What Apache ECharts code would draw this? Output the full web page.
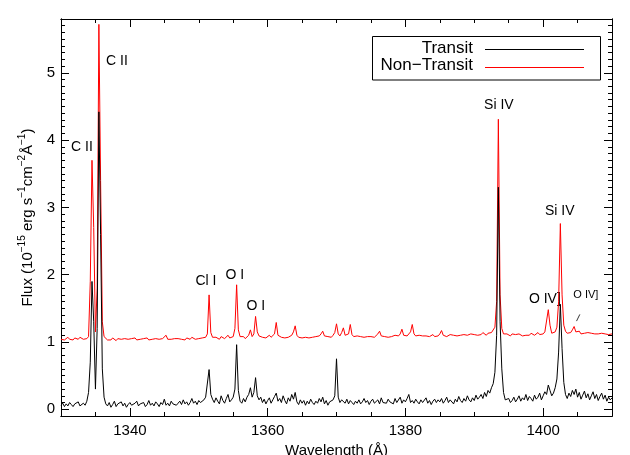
<!DOCTYPE html>
<html>
<head>
<meta charset="utf-8">
<script src="https://cdn.jsdelivr.net/npm/echarts@6.0.0/dist/echarts.min.js"></script>
<style>
html, body { margin: 0; padding: 0; background: #fff; }
#chart { width: 630px; height: 455px; }
</style>
</head>
<body>
<div id="chart"></div>
<script>
// wavelength grid 1330..1410 A, step 0.25 A (one row below = 1 A)
var waveStart = 1330, waveStep = 0.25;

var nonTransit = [
    1.04,1.06,1.03,1.05, //1330
    1.07,1.04,1.05,1.03,
    1.06,1.05,1.04,1.07,
    1.05,1.04,1.06,1.05,
    1.08,1.90,3.70,2.70, //1334
    1.15,1.80,5.72,3.40,
    1.30,1.08,1.06,1.03,
    1.05,1.03,1.06,1.04,
    1.02,1.05,1.07,1.04,
    1.03,1.05,1.06,1.04,
    1.03,1.05,1.04,1.06, //1340
    1.03,1.05,1.04,1.02,
    1.05,1.04,1.06,1.03,
    1.05,1.04,1.06,1.05,
    1.03,1.04,1.06,1.05,
    1.07,1.10,1.04,1.05, //1345
    1.04,1.06,1.05,1.03,
    1.05,1.06,1.04,1.05,
    1.03,1.06,1.05,1.04,
    1.07,1.05,1.04,1.06,
    1.05,1.04,1.06,1.05, //1350
    1.07,1.12,1.70,1.14,
    1.07,1.05,1.07,1.06,
    1.04,1.08,1.06,1.05,
    1.07,1.10,1.06,1.05,
    1.08,1.20,1.85,1.18, //1355
    1.08,1.06,1.08,1.05,
    1.07,1.10,1.18,1.08,
    1.12,1.38,1.15,1.09,
    1.10,1.07,1.09,1.06,
    1.08,1.10,1.07,1.09, //1360
    1.12,1.29,1.10,1.08,
    1.07,1.09,1.06,1.08,
    1.07,1.09,1.10,1.15,
    1.24,1.10,1.07,1.08,
    1.06,1.08,1.07,1.09, //1365
    1.06,1.08,1.07,1.06,
    1.08,1.07,1.09,1.12,
    1.16,1.09,1.07,1.08,
    1.09,1.07,1.10,1.14,
    1.27,1.12,1.09,1.14, //1370
    1.21,1.10,1.08,1.12,
    1.26,1.11,1.08,1.07,
    1.09,1.07,1.08,1.10,
    1.07,1.09,1.08,1.06,
    1.08,1.10,1.07,1.09, //1375
    1.12,1.16,1.09,1.07,
    1.08,1.10,1.07,1.09,
    1.08,1.07,1.10,1.08,
    1.09,1.12,1.19,1.10,
    1.08,1.09,1.11,1.15, //1380
    1.26,1.12,1.09,1.08,
    1.10,1.08,1.09,1.07,
    1.09,1.10,1.08,1.09,
    1.11,1.08,1.10,1.09,
    1.12,1.17,1.10,1.09, //1385
    1.08,1.10,1.11,1.09,
    1.10,1.12,1.09,1.11,
    1.10,1.08,1.11,1.12,
    1.10,1.09,1.12,1.10,
    1.11,1.13,1.10,1.12, //1390
    1.11,1.14,1.12,1.10,
    1.13,1.11,1.14,1.12,
    1.22,1.60,4.31,1.70,
    1.20,1.12,1.10,1.12,
    1.10,1.09,1.12,1.10, //1395
    1.11,1.09,1.12,1.10,
    1.09,1.11,1.10,1.12,
    1.10,1.13,1.11,1.10,
    1.12,1.14,1.11,1.13,
    1.12,1.15,1.13,1.48, //1400
    1.25,1.13,1.12,1.15,
    1.22,1.60,2.76,1.70,
    1.25,1.16,1.13,1.12,
    1.14,1.18,1.23,1.15,
    1.13,1.16,1.12,1.14, //1405
    1.13,1.11,1.14,1.12,
    1.13,1.11,1.12,1.14,
    1.12,1.10,1.13,1.11,
    1.12,1.14,1.11,1.12,
    1.12                 //1410
];

var transit = [
    0.06,0.09,0.04,0.08, //1330
    0.05,0.10,0.07,0.04,
    0.08,0.06,0.11,0.05,
    0.07,0.09,0.06,0.12,
    0.25,0.70,1.90,1.30, //1334
    0.30,1.20,4.42,2.60,
    0.60,0.18,0.08,0.05,
    0.10,0.03,0.07,0.12,
    0.04,0.08,0.06,0.11,
    0.05,0.09,0.03,0.07,
    0.10,0.06,0.04,0.09, //1340
    0.12,0.05,0.08,0.06,
    0.10,0.04,0.07,0.13,
    0.06,0.09,0.05,0.11,
    0.08,0.04,0.10,0.07,
    0.15,0.06,0.09,0.05, //1345
    0.12,0.08,0.10,0.06,
    0.09,0.12,0.07,0.14,
    0.08,0.11,0.06,0.10,
    0.16,0.09,0.12,0.07,
    0.13,0.10,0.08,0.14, //1350
    0.18,0.20,0.59,0.22,
    0.15,0.10,0.17,0.12,
    0.08,0.20,0.13,0.09,
    0.16,0.22,0.11,0.14,
    0.18,0.30,0.96,0.28, //1355
    0.12,0.09,0.16,0.11,
    0.18,0.22,0.32,0.18,
    0.25,0.47,0.20,0.14,
    0.18,0.10,0.15,0.08,
    0.13,0.17,0.09,0.14, //1360
    0.19,0.24,0.12,0.16,
    0.10,0.20,0.13,0.08,
    0.17,0.12,0.22,0.15,
    0.25,0.11,0.07,0.14,
    0.09,0.13,0.06,0.12, //1365
    0.08,0.15,0.10,0.07,
    0.12,0.09,0.16,0.11,
    0.18,0.08,0.13,0.06,
    0.11,0.09,0.14,0.20,
    0.75,0.18,0.10,0.14, //1370
    0.12,0.09,0.15,0.08,
    0.13,0.10,0.07,0.12,
    0.09,0.14,0.08,0.11,
    0.16,0.10,0.13,0.07,
    0.12,0.15,0.09,0.11, //1375
    0.14,0.08,0.17,0.10,
    0.12,0.09,0.15,0.11,
    0.13,0.08,0.16,0.10,
    0.12,0.18,0.09,0.14,
    0.11,0.16,0.22,0.10, //1380
    0.13,0.09,0.15,0.11,
    0.08,0.14,0.10,0.12,
    0.17,0.09,0.13,0.07,
    0.12,0.15,0.10,0.14,
    0.11,0.16,0.09,0.13, //1385
    0.18,0.10,0.14,0.12,
    0.08,0.15,0.11,0.19,
    0.13,0.10,0.16,0.12,
    0.20,0.14,0.11,0.17,
    0.13,0.21,0.15,0.18, //1390
    0.22,0.16,0.25,0.19,
    0.28,0.24,0.32,0.38,
    0.55,1.10,3.30,1.30,
    0.60,0.25,0.14,0.12,
    0.16,0.10,0.13,0.18, //1395
    0.11,0.15,0.20,0.12,
    0.17,0.14,0.22,0.13,
    0.19,0.16,0.12,0.21,
    0.15,0.18,0.24,0.14,
    0.20,0.26,0.22,0.36, //1400
    0.28,0.20,0.24,0.32,
    0.45,0.85,1.56,0.90,
    0.40,0.22,0.16,0.24,
    0.19,0.28,0.22,0.30,
    0.18,0.25,0.15,0.21, //1405
    0.27,0.17,0.23,0.14,
    0.20,0.26,0.16,0.22,
    0.13,0.19,0.24,0.15,
    0.21,0.12,0.18,0.14,
    0.17                 //1410
];

// line identifications [wavelength, flux, text]
var lineLabels = [
    [1333.05, 3.89, 'C II'],
    [1338.13, 5.17, 'C II'],
    [1351.05, 1.90, 'Cl I'],
    [1355.25, 1.99, 'O I'],
    [1358.30, 1.54, 'O I'],
    [1393.57, 4.52, 'Si IV'],
    [1402.42, 2.94, 'Si IV'],
    [1400.25, 1.63, 'O IV]']
];
var smallLabels = [[1406.20, 1.70, 'O IV]']];
var leader = [[1405.33, 1.41], [1404.85, 1.31]];

var xMajor = [1340, 1360, 1380, 1400];
var yMajor = [0, 1, 2, 3, 4, 5];

var gridBox = {left: 61, right: 18, top: 19, bottom: 39, outerBoundsMode: 'none'};

function toPairs(arr) {
    var out = [];
    for (var i = 0; i < arr.length; i++) {
        out.push([waveStart + i * waveStep, arr[i]]);
    }
    return out;
}

function labelData(list) {
    var out = [];
    for (var i = 0; i < list.length; i++) {
        out.push({value: [list[i][0], list[i][1]], name: list[i][2]});
    }
    return out;
}

// frame axes live on grid 1 (no series on it), the data on grid 0
function xAxisOf(pos, major, showLabel) {
    var ax = {
        gridIndex: 1, type: 'value', position: pos, min: 1330, max: 1410,
        interval: major ? 20 : 5,
        axisLine: {show: true, onZero: false, lineStyle: {color: '#000', width: 1}},
        axisTick: {show: true, inside: true, length: major ? 8 : 4,
            lineStyle: {color: '#000', width: 1}},
        axisLabel: {show: showLabel, color: '#000', fontSize: 15, margin: 7,
            formatter: function (v) { return String(v); }},
        splitLine: {show: false}
    };
    if (major) { ax.axisTick.customValues = xMajor; ax.axisLabel.customValues = xMajor; }
    return ax;
}

function yAxisOf(pos, major, showLabel) {
    var ax = {
        gridIndex: 1, type: 'value', position: pos, min: -0.1, max: 5.8,
        interval: major ? 1 : 0.1,
        axisLine: {show: true, onZero: false, lineStyle: {color: '#000', width: 1}},
        axisTick: {show: true, inside: true, length: major ? 8 : 4,
            lineStyle: {color: '#000', width: 1}},
        axisLabel: {show: showLabel, color: '#000', fontSize: 15, margin: 6,
            formatter: function (v) { return String(v); }},
        splitLine: {show: false}
    };
    if (major) { ax.axisTick.customValues = yMajor; ax.axisLabel.customValues = yMajor; }
    return ax;
}

var xBottom = xAxisOf('bottom', true, true);
xBottom.name = 'Wavelength (\u00c5)';
xBottom.nameLocation = 'middle';
xBottom.nameGap = 17;
xBottom.nameTextStyle = {color: '#000', fontSize: 15};

var labelStyle = {show: true, position: 'inside', formatter: '{b}', color: '#000',
    fontSize: 14, textBorderWidth: 0};
var smallLabelStyle = {show: true, position: 'inside', formatter: '{b}', color: '#000',
    fontSize: 11, textBorderWidth: 0};

var option = {
    animation: false,
    grid: [gridBox, gridBox],
    xAxis: [
        {gridIndex: 0, type: 'value', min: 1330, max: 1410, show: false},
        xBottom, xAxisOf('bottom', false, false), xAxisOf('top', true, false), xAxisOf('top', false, false)
    ],
    yAxis: [
        {gridIndex: 0, type: 'value', min: -0.1, max: 5.8, show: false},
        yAxisOf('left', true, true), yAxisOf('left', false, false), yAxisOf('right', true, false), yAxisOf('right', false, false)
    ],
    series: [
        {
            name: 'Non-Transit', type: 'line', data: toPairs(nonTransit),
            symbol: 'none', lineStyle: {color: '#ff0000', width: 1}
        },
        {
            name: 'Transit', type: 'line', data: toPairs(transit),
            symbol: 'none', lineStyle: {color: '#000000', width: 1}
        },
        {
            type: 'line', data: leader, symbol: 'none',
            lineStyle: {color: '#000', width: 0.8}
        },
        {
            type: 'scatter', data: labelData(lineLabels), symbolSize: 1,
            itemStyle: {color: '#fff', opacity: 1}, label: labelStyle
        },
        {
            type: 'scatter', data: labelData(smallLabels), symbolSize: 1,
            itemStyle: {color: '#fff', opacity: 1}, label: smallLabelStyle
        }
    ],
    graphic: [
        {type: 'text', x: 28, y: 217.5, rotation: Math.PI / 2,
            style: {
                text: '{n|Flux (10}{s|\u221215}{n| erg s}{s|\u22121}{n|cm}{s|\u22122}{n|\u00c5}{s|\u22121}{n|)}',
                align: 'center', verticalAlign: 'middle', fill: '#000',
                rich: {
                    n: {fontSize: 15, fill: '#000', lineHeight: 22},
                    s: {fontSize: 10, fill: '#000', lineHeight: 22, verticalAlign: 'top'}
                }
            }},
        {type: 'rect', z: 10, shape: {x: 372.5, y: 36.5, width: 228, height: 43.5},
            style: {fill: '#fff', stroke: '#000', lineWidth: 1}},
        {type: 'text', z: 11, x: 473, y: 48,
            style: {text: 'Transit', fill: '#000', fontSize: 17, align: 'right', verticalAlign: 'middle'}},
        {type: 'text', z: 11, x: 473, y: 65.5,
            style: {text: 'Non\u2212Transit', fill: '#000', fontSize: 17, align: 'right', verticalAlign: 'middle'}},
        {type: 'line', z: 11, shape: {x1: 485, y1: 49.5, x2: 584, y2: 49.5},
            style: {stroke: '#000', lineWidth: 1}},
        {type: 'line', z: 11, shape: {x1: 485, y1: 67.5, x2: 584, y2: 67.5},
            style: {stroke: '#ff0000', lineWidth: 1}}
    ]
};

var chart = echarts.init(document.getElementById('chart'));
chart.setOption(option);
</script>
</body>
</html>
